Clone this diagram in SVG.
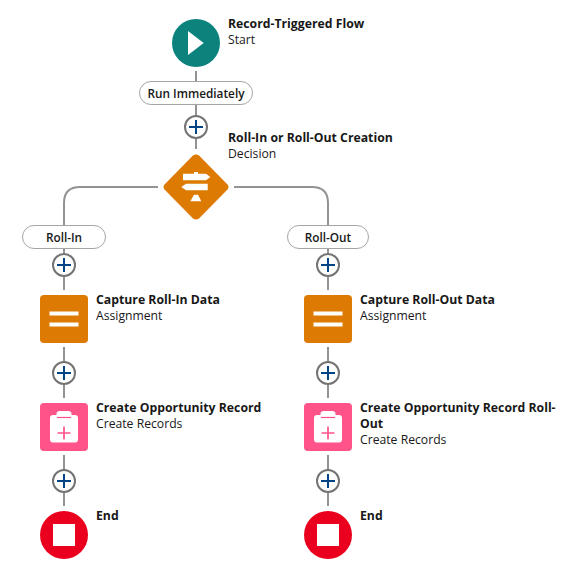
<svg xmlns="http://www.w3.org/2000/svg" width="572" height="574" viewBox="0 0 572 574">
<defs>
<style>
text{font-family:"Open Sans","Noto Sans","Liberation Sans",sans-serif;font-size:12.200px;fill:#181818}
.t{font-weight:700;font-size:12.250px}
.p{font-weight:600;text-anchor:middle;font-size:11.800px}
.c{fill:none;stroke:#939393;stroke-width:2}
.pill{fill:#fff;stroke:#a5a5a5;stroke-width:1}
.pc{fill:#fff;stroke:#747474;stroke-width:2}
.pl{fill:none;stroke:#014486;stroke-width:2}
.w{fill:#fff}
</style>
<g id="plus"><circle class="pc" r="11"/><path class="pl" d="M-7 0H7M0-7V7"/></g>
<g id="assign"><rect x="-24" y="-24" width="48" height="48" rx="4" fill="#dd7a01"/><rect class="w" x="-14.500" y="-7.500" width="29" height="4"/><rect class="w" x="-14.500" y="3.500" width="29" height="4"/></g>
<g id="create"><rect x="-24" y="-24" width="48" height="48" rx="4" fill="#ff538a"/><path class="w" d="M-11-12H-7.500V-13Q-7.500-16-4.500-16H4.500Q7.500-16 7.500-13V-12H11Q14-12 14-9V12.500Q14 15.500 11 15.500H-11Q-14 15.500-14 12.500V-9Q-14-12-11-12Z"/><path d="M-7-9.500H7" stroke="#ff538a" stroke-width="1.200"/><path d="M-6.500 6H6.500M0-.5V12.500" stroke="#ff538a" stroke-width="1.700" fill="none"/></g>
<g id="end"><circle r="24" fill="#ea001e"/><rect class="w" x="-11" y="-11" width="22" height="22"/></g>
</defs>
<rect width="572" height="574" fill="#fff"/>
<g id="connectors">
<path class="c" d="M196 71V81M196 105V116M196 138V149"/>
<path class="c" d="M158 187H80Q64 187 64 203V225M234 187H312Q328 187 328 203V225"/>
<path class="c" d="M64 249V290M64 347V398M64 455V506"/>
<path class="c" d="M328 249V290M328 347V398M328 455V506"/>
</g>
<g id="start"><circle cx="196" cy="43" r="24" fill="#0b827c"/><path class="w" d="M188 31L203.700 43L188 55Z"/><text class="t" x="228" y="28">Record-Triggered Flow</text><text x="228" y="44">Start</text></g>
<g id="run-immediately"><rect class="pill" x="139.500" y="81.500" width="113" height="23" rx="11.500"/><text class="p" x="196" y="98">Run Immediately</text></g>
<g id="add-1"><use href="#plus" x="196" y="127"/></g>
<g id="decision"><path d="M193 155.500Q196 153.500 199 155.500L227.500 184.500Q229.500 187 227.500 189.500L199 218.500Q196 220.500 193 218.500L164.500 189.500Q162.500 187 164.500 184.500Z" fill="#dd7a01"/><path class="w" d="M194 172H198V173.700H206L210.300 177L206 180.300H183V173.700H194ZM194 183.700H198V183.700H207.700V190.300H186L181.300 187L186 183.700H194ZM194 194.700H198L201.300 201.300H190.300Z"/><text class="t" x="228" y="142">Roll-In or Roll-Out Creation</text><text x="228" y="158">Decision</text></g>
<g id="roll-in"><rect class="pill" x="22.500" y="225.500" width="83" height="23" rx="11.500"/><text class="p" x="64" y="242">Roll-In</text></g>
<g id="roll-out"><rect class="pill" x="287.500" y="225.500" width="81" height="23" rx="11.500"/><text class="p" x="328" y="242">Roll-Out</text></g>
<g id="add-2"><use href="#plus" x="64" y="265"/></g>
<g id="add-3"><use href="#plus" x="328" y="265"/></g>
<g id="capture-in"><use href="#assign" x="64" y="319"/><text class="t" x="96" y="304">Capture Roll-In Data</text><text x="96" y="320">Assignment</text></g>
<g id="capture-out"><use href="#assign" x="328" y="319"/><text class="t" x="360" y="304">Capture Roll-Out Data</text><text x="360" y="320">Assignment</text></g>
<g id="add-4"><use href="#plus" x="64" y="373"/></g>
<g id="add-5"><use href="#plus" x="328" y="373"/></g>
<g id="create-in"><use href="#create" x="64" y="427"/><text class="t" x="96" y="412">Create Opportunity Record</text><text x="96" y="428">Create Records</text></g>
<g id="create-out"><use href="#create" x="328" y="427"/><text class="t" x="360" y="412">Create Opportunity Record Roll-</text><text class="t" x="360" y="428">Out</text><text x="360" y="444">Create Records</text></g>
<g id="add-6"><use href="#plus" x="64" y="481"/></g>
<g id="add-7"><use href="#plus" x="328" y="481"/></g>
<g id="end-in"><use href="#end" x="64" y="535"/><text class="t" x="96" y="520">End</text></g>
<g id="end-out"><use href="#end" x="328" y="535"/><text class="t" x="360" y="520">End</text></g>
</svg>
